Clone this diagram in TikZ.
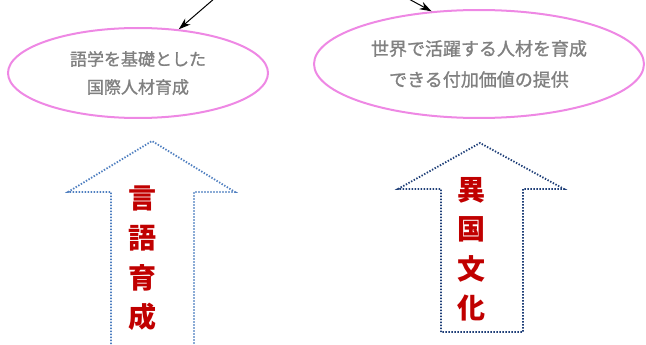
\documentclass[tikz,border=0pt]{standalone}
\usepackage{fontspec}
\usepackage{tikz}
\usetikzlibrary{shapes.geometric,arrows.meta}
\newfontfamily\cjk{Noto Sans CJK JP}
\newfontfamily\cjkmed{Noto Sans CJK JP}[FakeBold=1.2]
\definecolor{bubbleline}{HTML}{EE88E4}
\definecolor{bubbletext}{HTML}{808080}
\definecolor{redtext}{HTML}{C00000}
\definecolor{leftblue}{HTML}{4F7FC0}
\definecolor{rightblue}{HTML}{1F3F78}

\begin{document}
\begin{tikzpicture}[x=1pt,y=-1pt,
	bubble/.style={ellipse,draw=bubbleline,line width=2pt,inner sep=0pt,align=center,text=bubbletext},
	dotarrow/.style={line width=1.8pt,dash pattern=on 1.4pt off 1.6pt},
	redchar/.style={text=redtext,font=\cjk\bfseries\fontsize{28}{28}\selectfont}]
	\useasboundingbox (0,0) rectangle (646,345);
	\node[bubble,minimum width=260,minimum height=90,font=\cjkmed\fontsize{17}{28}\selectfont] (le) at (138,73) {語学を基礎とした\\国際人材育成};
	\node[bubble,minimum width=330,minimum height=108,font=\cjkmed\fontsize{18}{31}\selectfont] (re) at (479,64) {世界で活躍する人材を育成\\できる付加価値の提供};
	\path
	(215,-2) coordinate (ls)
	(407,-2) coordinate (rs)
	;
	\draw[line width=1pt,-{Stealth[length=12pt,width=8pt]}] (ls) -- (le.47);
	\draw[line width=1pt,-{Stealth[length=12pt,width=8pt]}] (rs) -- (re.132);
	% block arrows
	\draw[dotarrow,draw=leftblue] (111,347) -- (111,192) -- (68,192) -- (152,141) -- (235,192) -- (194,192) -- (194,347);
	\draw[dotarrow,draw=rightblue] (441,332) -- (441,189) -- (398,189) -- (480,143) -- (564,189) -- (523,189) -- (523,332) -- cycle;
	\foreach \c [count=\i] in {言,語,育,成} \node[redchar] (l\i) at (142,{198+39.7*(\i-1)}) {\c};
	\foreach \c [count=\i] in {異,国,文,化} \node[redchar] (r\i) at (471,{190+39.3*(\i-1)}) {\c};
\end{tikzpicture}
\end{document}
